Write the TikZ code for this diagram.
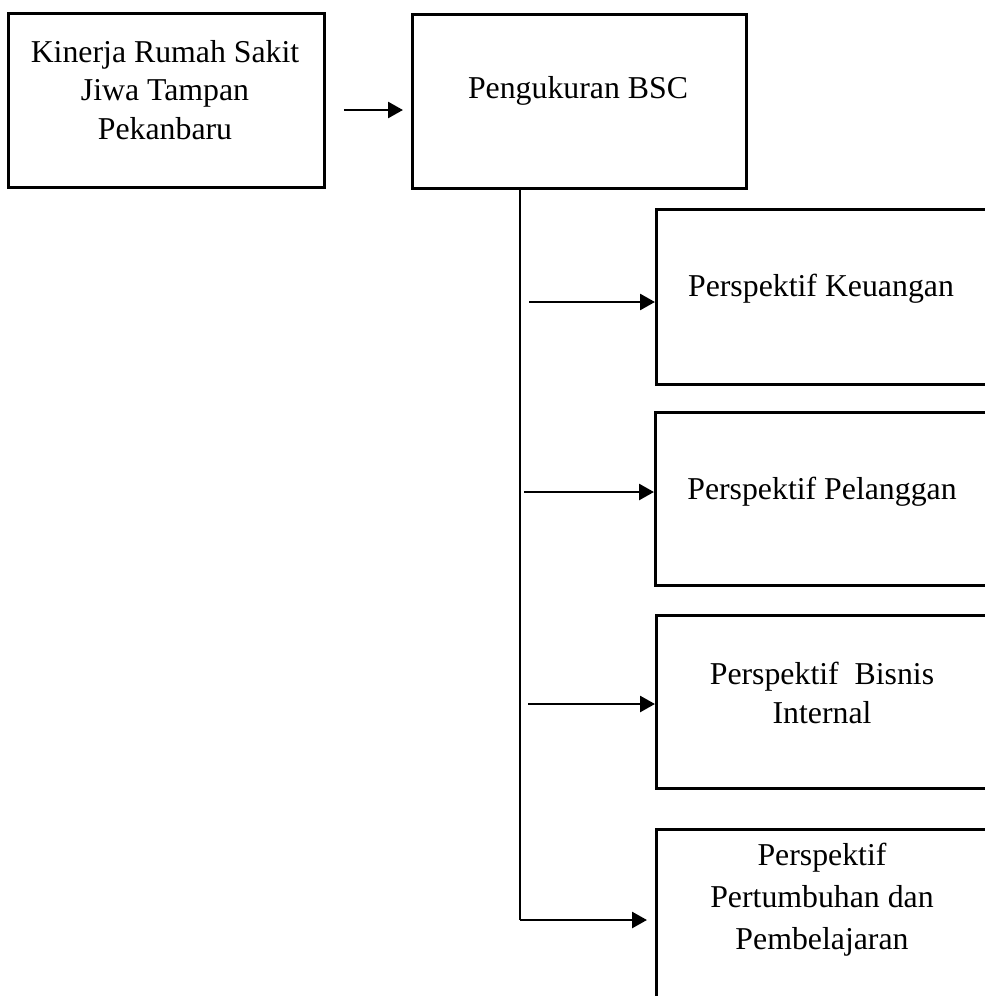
\documentclass[tikz,border=0pt]{standalone}
\usepackage{fontspec}
\setmainfont{Liberation Serif}
\usetikzlibrary{arrows.meta,calc}
\begin{document}
\begin{tikzpicture}[x=1pt,y=-1pt,
  box/.style={draw=black,line width=2.8pt,anchor=north west,inner sep=0pt},
  txt/.style={align=center,inner sep=0pt,font=\fontsize{31.8}{38.5}\selectfont},
  arr/.style={line width=2.7pt,-{Triangle[length=15pt,width=16pt]}},
  trunk/.style={line width=1.4pt}]
\useasboundingbox (0,0) rectangle (985,996);
\clip (0,0) rectangle (985,996);
% boxes
\node[box,minimum width=316pt,minimum height=174pt] (b1) at (7,12) {};
\node[box,minimum width=334pt,minimum height=174pt] (b2) at (411,13) {};
\node[box,minimum width=335pt,minimum height=175pt] (k) at (655,208) {};
\node[box,minimum width=336pt,minimum height=173pt] (p) at (654,411) {};
\node[box,minimum width=335pt,minimum height=173pt] (bi) at (655,614) {};
\node[box,minimum width=335pt,minimum height=190pt] (pp) at (655,828) {};
% texts
\node[txt] (t1) at (165,90) {Kinerja Rumah Sakit\\Jiwa Tampan\\Pekanbaru};
\node[txt] (t2) at (578,91) {Pengukuran BSC};
\node[txt] (tk) at (821,289) {Perspektif Keuangan};
\node[txt] (tp) at (822,492) {Perspektif Pelanggan};
\node[txt] (tbi) at (822,693) {Perspektif\ \ Bisnis\\Internal};
\node[txt,font=\fontsize{31.8}{42}\selectfont] (tpp) at (822,900) {Perspektif\\Pertumbuhan dan\\Pembelajaran};
% connectors
\draw[arr,shorten <=18pt,shorten >=8pt] (b1.east |- 0,110) -- (b2.west |- 0,110);
\coordinate (v0) at (520,187);
\coordinate (v1) at (520,920);
\draw[trunk] (v0) -- (v1);
\coordinate (ak) at (529,302);
\coordinate (ap) at (524,492);
\coordinate (abi) at (528,704);
\draw[arr] (ak) -- (ak -| k.west);
\draw[arr] (ap) -- (ap -| p.west);
\draw[arr] (abi) -- (abi -| bi.west);
\draw[arr,shorten >=8pt] (v1) -- (v1 -| pp.west);
\end{tikzpicture}
\end{document}
